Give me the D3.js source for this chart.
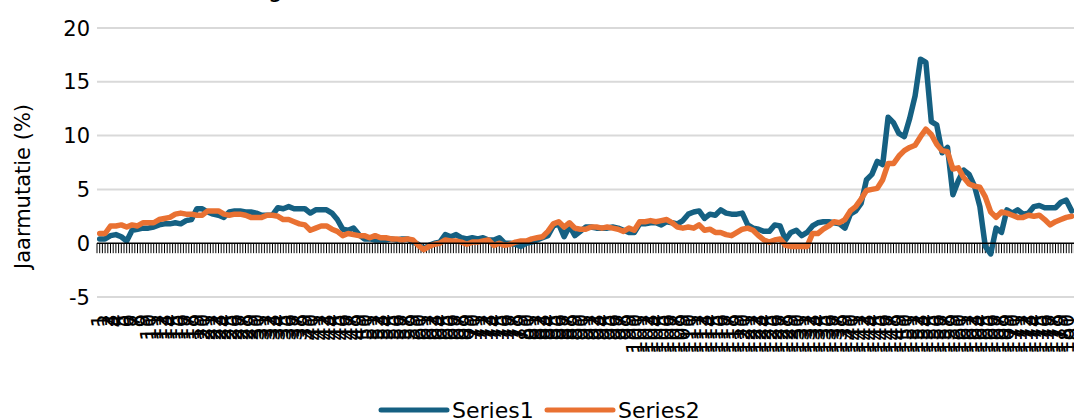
<!DOCTYPE html>
<html>
<head>
<meta charset="utf-8">
<script src="https://cdn.jsdelivr.net/npm/d3@7"></script>
<style>
  body { margin: 0; background: #fff; }
  svg text { font-family: "DejaVu Sans", sans-serif; fill: #000; }
</style>
</head>
<body>
<div id="chart"></div>
<script>
// monthly year-on-year change, Jan 2010 .. Jan 2025
const series1 = [
  0.4, 0.4, 0.7, 0.8, 0.6, 0.2, 1.2, 1.3, 1.4, 1.4, 1.5, 1.7,
  1.8, 1.8, 1.9, 1.8, 2.1, 2.2, 3.2, 3.2, 2.9, 2.7, 2.6, 2.4,
  2.9, 3.0, 3.0, 2.9, 2.9, 2.8, 2.6, 2.6, 2.6, 3.3, 3.2, 3.4,
  3.2, 3.2, 3.2, 2.8, 3.1, 3.1, 3.1, 2.8, 2.2, 1.3, 1.2, 1.4,
  0.8, 0.4, 0.4, 0.3, 0.3, 0.3, 0.4, 0.3, 0.4, 0.4, 0.1, -0.1,
  -0.5, -0.2, 0.0, 0.1, 0.8, 0.6, 0.8, 0.5, 0.4, 0.5, 0.4, 0.5,
  0.3, 0.3, 0.5, 0.0, 0.0, -0.1, -0.3, 0.0, 0.1, 0.3, 0.5, 0.7,
  1.6, 1.8, 0.6, 1.6, 0.7, 1.1, 1.5, 1.5, 1.4, 1.4, 1.4, 1.5,
  1.4, 1.2, 1.0, 1.0, 1.8, 1.8, 1.9, 1.9, 1.7, 2.0, 1.9, 1.8,
  2.1, 2.7, 2.9, 3.0, 2.3, 2.7, 2.6, 3.1, 2.8, 2.7, 2.7, 2.8,
  1.7, 1.4, 1.3, 1.1, 1.1, 1.7, 1.6, 0.3, 1.0, 1.2, 0.7, 1.0,
  1.6, 1.9, 2.0, 2.0, 1.9, 1.8, 1.4, 2.7, 3.0, 3.7, 5.9, 6.4,
  7.6, 7.3, 11.7, 11.2, 10.2, 9.9, 11.6, 13.7, 17.1, 16.8, 11.3, 11.0,
  8.4, 8.9, 4.5, 5.8, 6.8, 6.4, 5.3, 3.4, -0.3, -1.0, 1.4, 1.0,
  3.1, 2.8, 3.1, 2.7, 2.8, 3.4, 3.5, 3.3, 3.3, 3.3, 3.8, 4.0,
  3.0
];
const series2 = [
  0.9, 0.9, 1.6, 1.6, 1.7, 1.5, 1.7, 1.6, 1.9, 1.9, 1.9, 2.2,
  2.3, 2.4, 2.7, 2.8, 2.7, 2.7, 2.6, 2.6, 3.0, 3.0, 3.0, 2.7,
  2.6, 2.7, 2.7, 2.6, 2.4, 2.4, 2.4, 2.6, 2.6, 2.5, 2.2, 2.2,
  2.0, 1.8, 1.7, 1.2, 1.4, 1.6, 1.6, 1.3, 1.1, 0.7, 0.9, 0.8,
  0.7, 0.7, 0.5, 0.7, 0.5, 0.5, 0.4, 0.4, 0.3, 0.4, 0.3, -0.2,
  -0.6, -0.3, -0.1, 0.0, 0.3, 0.2, 0.2, 0.1, -0.1, 0.1, 0.1, 0.2,
  0.3, -0.2, 0.0, -0.2, -0.1, 0.1, 0.2, 0.2, 0.4, 0.5, 0.6, 1.1,
  1.8, 2.0, 1.5, 1.9, 1.4, 1.3, 1.3, 1.5, 1.5, 1.4, 1.5, 1.4,
  1.3, 1.1, 1.4, 1.2, 2.0, 2.0, 2.1, 2.0, 2.1, 2.2, 1.9, 1.5,
  1.4, 1.5, 1.4, 1.7, 1.2, 1.3, 1.0, 1.0, 0.8, 0.7, 1.0, 1.3,
  1.4, 1.2, 0.7, 0.3, 0.1, 0.3, 0.4, -0.2, -0.3, -0.3, -0.3, -0.3,
  0.9, 0.9, 1.3, 1.6, 2.0, 1.9, 2.2, 3.0, 3.4, 4.1, 4.9, 5.0,
  5.1, 5.9, 7.4, 7.4, 8.1, 8.6, 8.9, 9.1, 9.9, 10.6, 10.1, 9.2,
  8.6, 8.5, 6.9, 7.0, 6.1, 5.5, 5.3, 5.2, 4.3, 2.9, 2.4, 2.9,
  2.8, 2.6, 2.4, 2.4, 2.6, 2.5, 2.6, 2.2, 1.7, 2.0, 2.2, 2.4,
  2.5
];
// category labels are just the running number 1..181
const categories = d3.range(1, series1.length + 1);
const yTicks = [-5, 0, 5, 10, 15, 20];
const seriesNames = ["Series1", "Series2"];
const seriesColors = ["#156082", "#E97132"];
const yTitle = "Jaarmutatie (%)";
const chartTitle = "Inflatie ontwikkeling";

const width = 1074, height = 420;
const plot = {left: 97, right: 1074.4, top: 28, bottom: 297};

const svg = d3.select("#chart").append("svg")
  .attr("width", width)
  .attr("height", height);

// scales
const x = d3.scaleBand()
  .domain(categories)
  .range([plot.left, plot.right]);
const bw = x.bandwidth();
const xc = d => x(d) + bw / 2;

const y = d3.scaleLinear()
  .domain([-5, 20])
  .range([plot.bottom, plot.top]);

// title (mostly cut off above the picture)
svg.append("text")
  .attr("x", 283)
  .attr("y", -3)
  .attr("text-anchor", "end")
  .style("font-size", "24px")
  .text(chartTitle);

// gridlines
svg.append("g")
  .selectAll("line")
  .data(yTicks.filter(d => d !== 0))
  .join("line")
    .attr("x1", plot.left)
    .attr("x2", width)
    .attr("y1", d => y(d))
    .attr("y2", d => y(d))
    .attr("stroke", "#d9d9d9")
    .attr("stroke-width", 2);

// y labels
svg.append("g")
  .selectAll("text")
  .data(yTicks)
  .join("text")
    .attr("x", 90)
    .attr("y", d => y(d))
    .attr("dy", "0.36em")
    .attr("text-anchor", "end")
    .style("font-size", "21px")
    .text(d => d);

// y title
svg.append("text")
  .attr("transform", "translate(30," + ((plot.top + plot.bottom) / 2 + 24) + ") rotate(-90)")
  .attr("text-anchor", "middle")
  .style("font-size", "21px")
  .text(yTitle);

// x axis at zero: dense ticks (boundaries and centres)
const tickPos = [];
categories.forEach(d => { tickPos.push(x(d)); tickPos.push(xc(d)); });
tickPos.push(plot.right);

svg.append("g")
  .selectAll("line")
  .data(tickPos)
  .join("line")
    .attr("x1", d => d)
    .attr("x2", d => d)
    .attr("y1", y(0))
    .attr("y2", y(0) + 10)
    .attr("stroke", "#000")
    .attr("stroke-width", 1);

// x labels, rotated, overlapping like the original
svg.append("g")
  .selectAll("text")
  .data(categories)
  .join("text")
    .attr("transform", d => "translate(" + xc(d) + ",314) rotate(-90)")
    .attr("text-anchor", "end")
    .attr("dy", "0.36em")
    .style("font-size", "21px")
    .text(d => d);

// lines
const line = d3.line()
  .x((v, i) => xc(categories[i]))
  .y(v => y(v));

[series1, series2].forEach((s, k) => {
  svg.append("path")
    .datum(s)
    .attr("fill", "none")
    .attr("stroke", seriesColors[k])
    .attr("stroke-width", 5.5)
    .attr("stroke-linejoin", "round")
    .attr("stroke-linecap", "round")
    .attr("d", line);
});

svg.append("line")
  .attr("x1", plot.left)
  .attr("x2", width)
  .attr("y1", y(0))
  .attr("y2", y(0))
  .attr("stroke", "#000")
  .attr("stroke-width", 1.5);

// legend
const legendX = [381, 547];
const legend = svg.append("g")
  .selectAll("g")
  .data(seriesNames)
  .join("g")
    .attr("transform", (d, i) => "translate(" + legendX[i] + ",410)");

legend.append("line")
  .attr("x1", 0)
  .attr("x2", 66)
  .attr("stroke", (d, i) => seriesColors[i])
  .attr("stroke-width", 5)
  .attr("stroke-linecap", "round");

legend.append("text")
  .attr("x", 71)
  .attr("dy", "0.36em")
  .style("font-size", "22px")
  .text(d => d);
</script>
</body>
</html>
